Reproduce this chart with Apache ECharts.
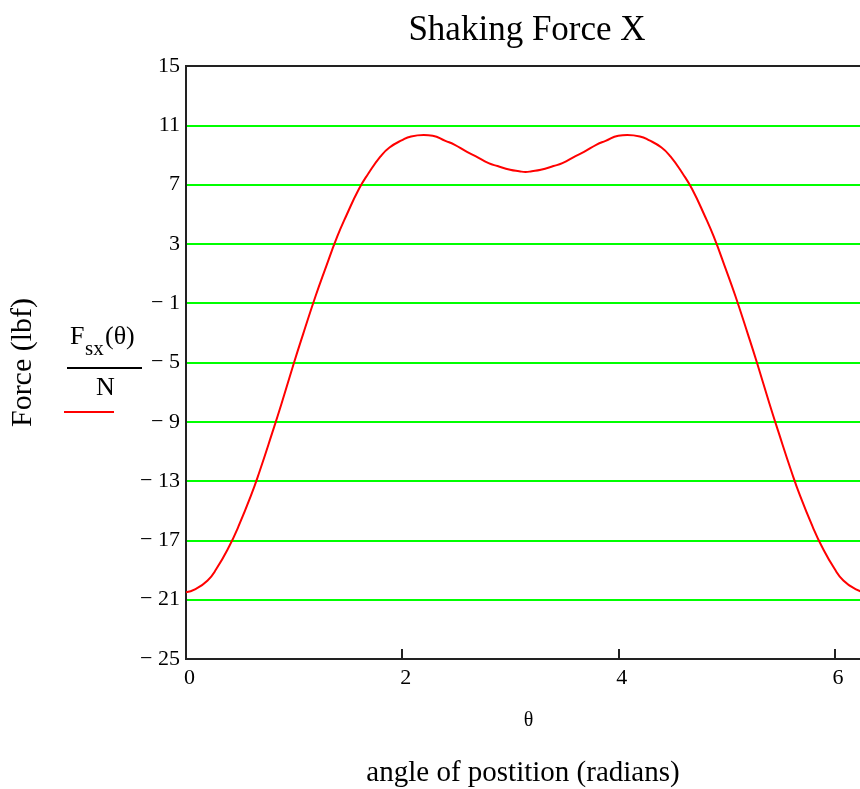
<!DOCTYPE html>
<html>
<head>
<meta charset="utf-8">
<script src="https://cdn.jsdelivr.net/npm/echarts@6/dist/echarts.min.js"></script>
<style>html,body{margin:0;padding:0;background:#fff;overflow:hidden;width:860px;height:789px}#c{width:872px;height:789px}</style>
</head>
<body>
<div id="c"></div>
<script>
// angle of position (radians)
var theta = [0, 0.083, 0.2, 0.283, 0.4, 0.483, 0.6, 0.683, 0.8, 0.883, 1.0, 1.083, 1.2, 1.283, 1.4, 1.483, 1.6, 1.683, 1.8, 1.883, 2.0, 2.083, 2.2, 2.283, 2.4, 2.483, 2.6, 2.683, 2.8, 2.883, 3.0, 3.083, 3.1416,
  3.2, 3.283, 3.4, 3.483, 3.6, 3.683, 3.8, 3.883, 4.0, 4.083, 4.2, 4.283, 4.4, 4.483, 4.6, 4.683, 4.8, 4.883, 5.0, 5.083, 5.2, 5.283, 5.4, 5.483, 5.6, 5.683, 5.8, 5.883, 6.0, 6.083, 6.2, 6.2832];
// Fsx(theta)/N  (lbf)
var force = [-20.5, -20.3, -19.7, -18.9, -17.4, -16.1, -14.0, -12.3, -9.7, -7.8, -5.0, -3.1, -0.5, 1.2, 3.5, 4.9, 6.7, 7.7, 8.9, 9.5, 10.0, 10.25, 10.35, 10.3, 9.95, 9.7, 9.2, 8.9, 8.45, 8.25, 8.0, 7.9, 7.85,
  7.9, 8.0, 8.25, 8.45, 8.9, 9.2, 9.7, 9.95, 10.3, 10.35, 10.25, 10.0, 9.5, 8.9, 7.7, 6.7, 4.9, 3.5, 1.2, -0.5, -3.1, -5.0, -7.8, -9.7, -12.3, -14.0, -16.1, -17.4, -18.9, -19.7, -20.3, -20.5];
var xTicks = [0, 2, 4, 6];
var yTicks = [-25, -21, -17, -13, -9, -5, -1, 3, 7, 11, 15];

var data = theta.map(function (t, i) { return [t, force[i]]; });
var serif = 'Liberation Serif';
var chart = echarts.init(document.getElementById('c'), null, {renderer: 'canvas'});
chart.setOption({
  animation: false,
  backgroundColor: '#fff',
  title: [
    {text: 'Shaking Force X', left: 522, top: 8, textAlign: 'center',
     textStyle: {fontFamily: serif, fontSize: 35, fontWeight: 'normal', color: '#000'}},
    {text: 'angle of postition (radians)', left: 518, top: 754, textAlign: 'center',
     textStyle: {fontFamily: serif, fontSize: 29, fontWeight: 'normal', color: '#000'}}
  ],
  grid: {left: 183, top: 66, width: 682, height: 593, show: true, borderColor: '#222', borderWidth: 2, backgroundColor: 'transparent', z: 3},
  xAxis: {
    type: 'value', min: 0, max: 2 * Math.PI, interval: 2,
    name: 'θ', nameLocation: 'middle', nameGap: 52,
    nameTextStyle: {fontFamily: serif, fontSize: 20, color: '#000', padding: [0, 0, 0, 6]},
    axisLine: {show: false, onZero: false},
    axisTick: {show: true, inside: true, length: 10, lineStyle: {color: '#222', width: 2},
      customValues: xTicks},
    axisLabel: {fontFamily: serif, fontSize: 22, color: '#000', margin: 8, customValues: xTicks,
      padding: [0, 0, 0, 7],
      formatter: function (v) { return String(v); }},
    splitLine: {show: false}
  },
  yAxis: {
    type: 'value', min: -25, max: 15, interval: 4,
    name: 'Force (lbf)', nameLocation: 'middle', nameRotate: 90, nameGap: 148,
    nameTextStyle: {fontFamily: serif, fontSize: 30, color: '#000'},
    axisLine: {show: false, onZero: false},
    axisTick: {show: false},
    axisLabel: {fontFamily: serif, fontSize: 22, color: '#000', margin: 6,
      formatter: function (v) { return v < 0 ? '\u2212 ' + Math.abs(v) : String(v); }},
    splitLine: {show: true, showMinLine: false, showMaxLine: false, lineStyle: {color: '#00ff00', width: 2}}
  },
  graphic: [
    {type: 'text', left: 70, top: 324, style: {text: 'F', fontFamily: serif, fontSize: 26, fill: '#000'}},
    {type: 'text', left: 85, top: 339, style: {text: 'sx', fontFamily: serif, fontSize: 21, fill: '#000'}},
    {type: 'text', left: 105, top: 324, style: {text: '(θ)', fontFamily: serif, fontSize: 26, fill: '#000'}},
    {type: 'line', shape: {x1: 67, y1: 368, x2: 142, y2: 368}, style: {stroke: '#000', lineWidth: 2}},
    {type: 'text', left: 96, top: 375, style: {text: 'N', fontFamily: serif, fontSize: 26, fill: '#000'}},
    {type: 'line', shape: {x1: 64, y1: 412, x2: 114, y2: 412}, style: {stroke: '#ff0000', lineWidth: 2}}
  ],
  series: [{
    type: 'line', data: data, smooth: true, showSymbol: false,
    lineStyle: {color: '#ff0000', width: 2}, itemStyle: {color: '#ff0000'}, clip: true
  }]
});
</script>
</body>
</html>
